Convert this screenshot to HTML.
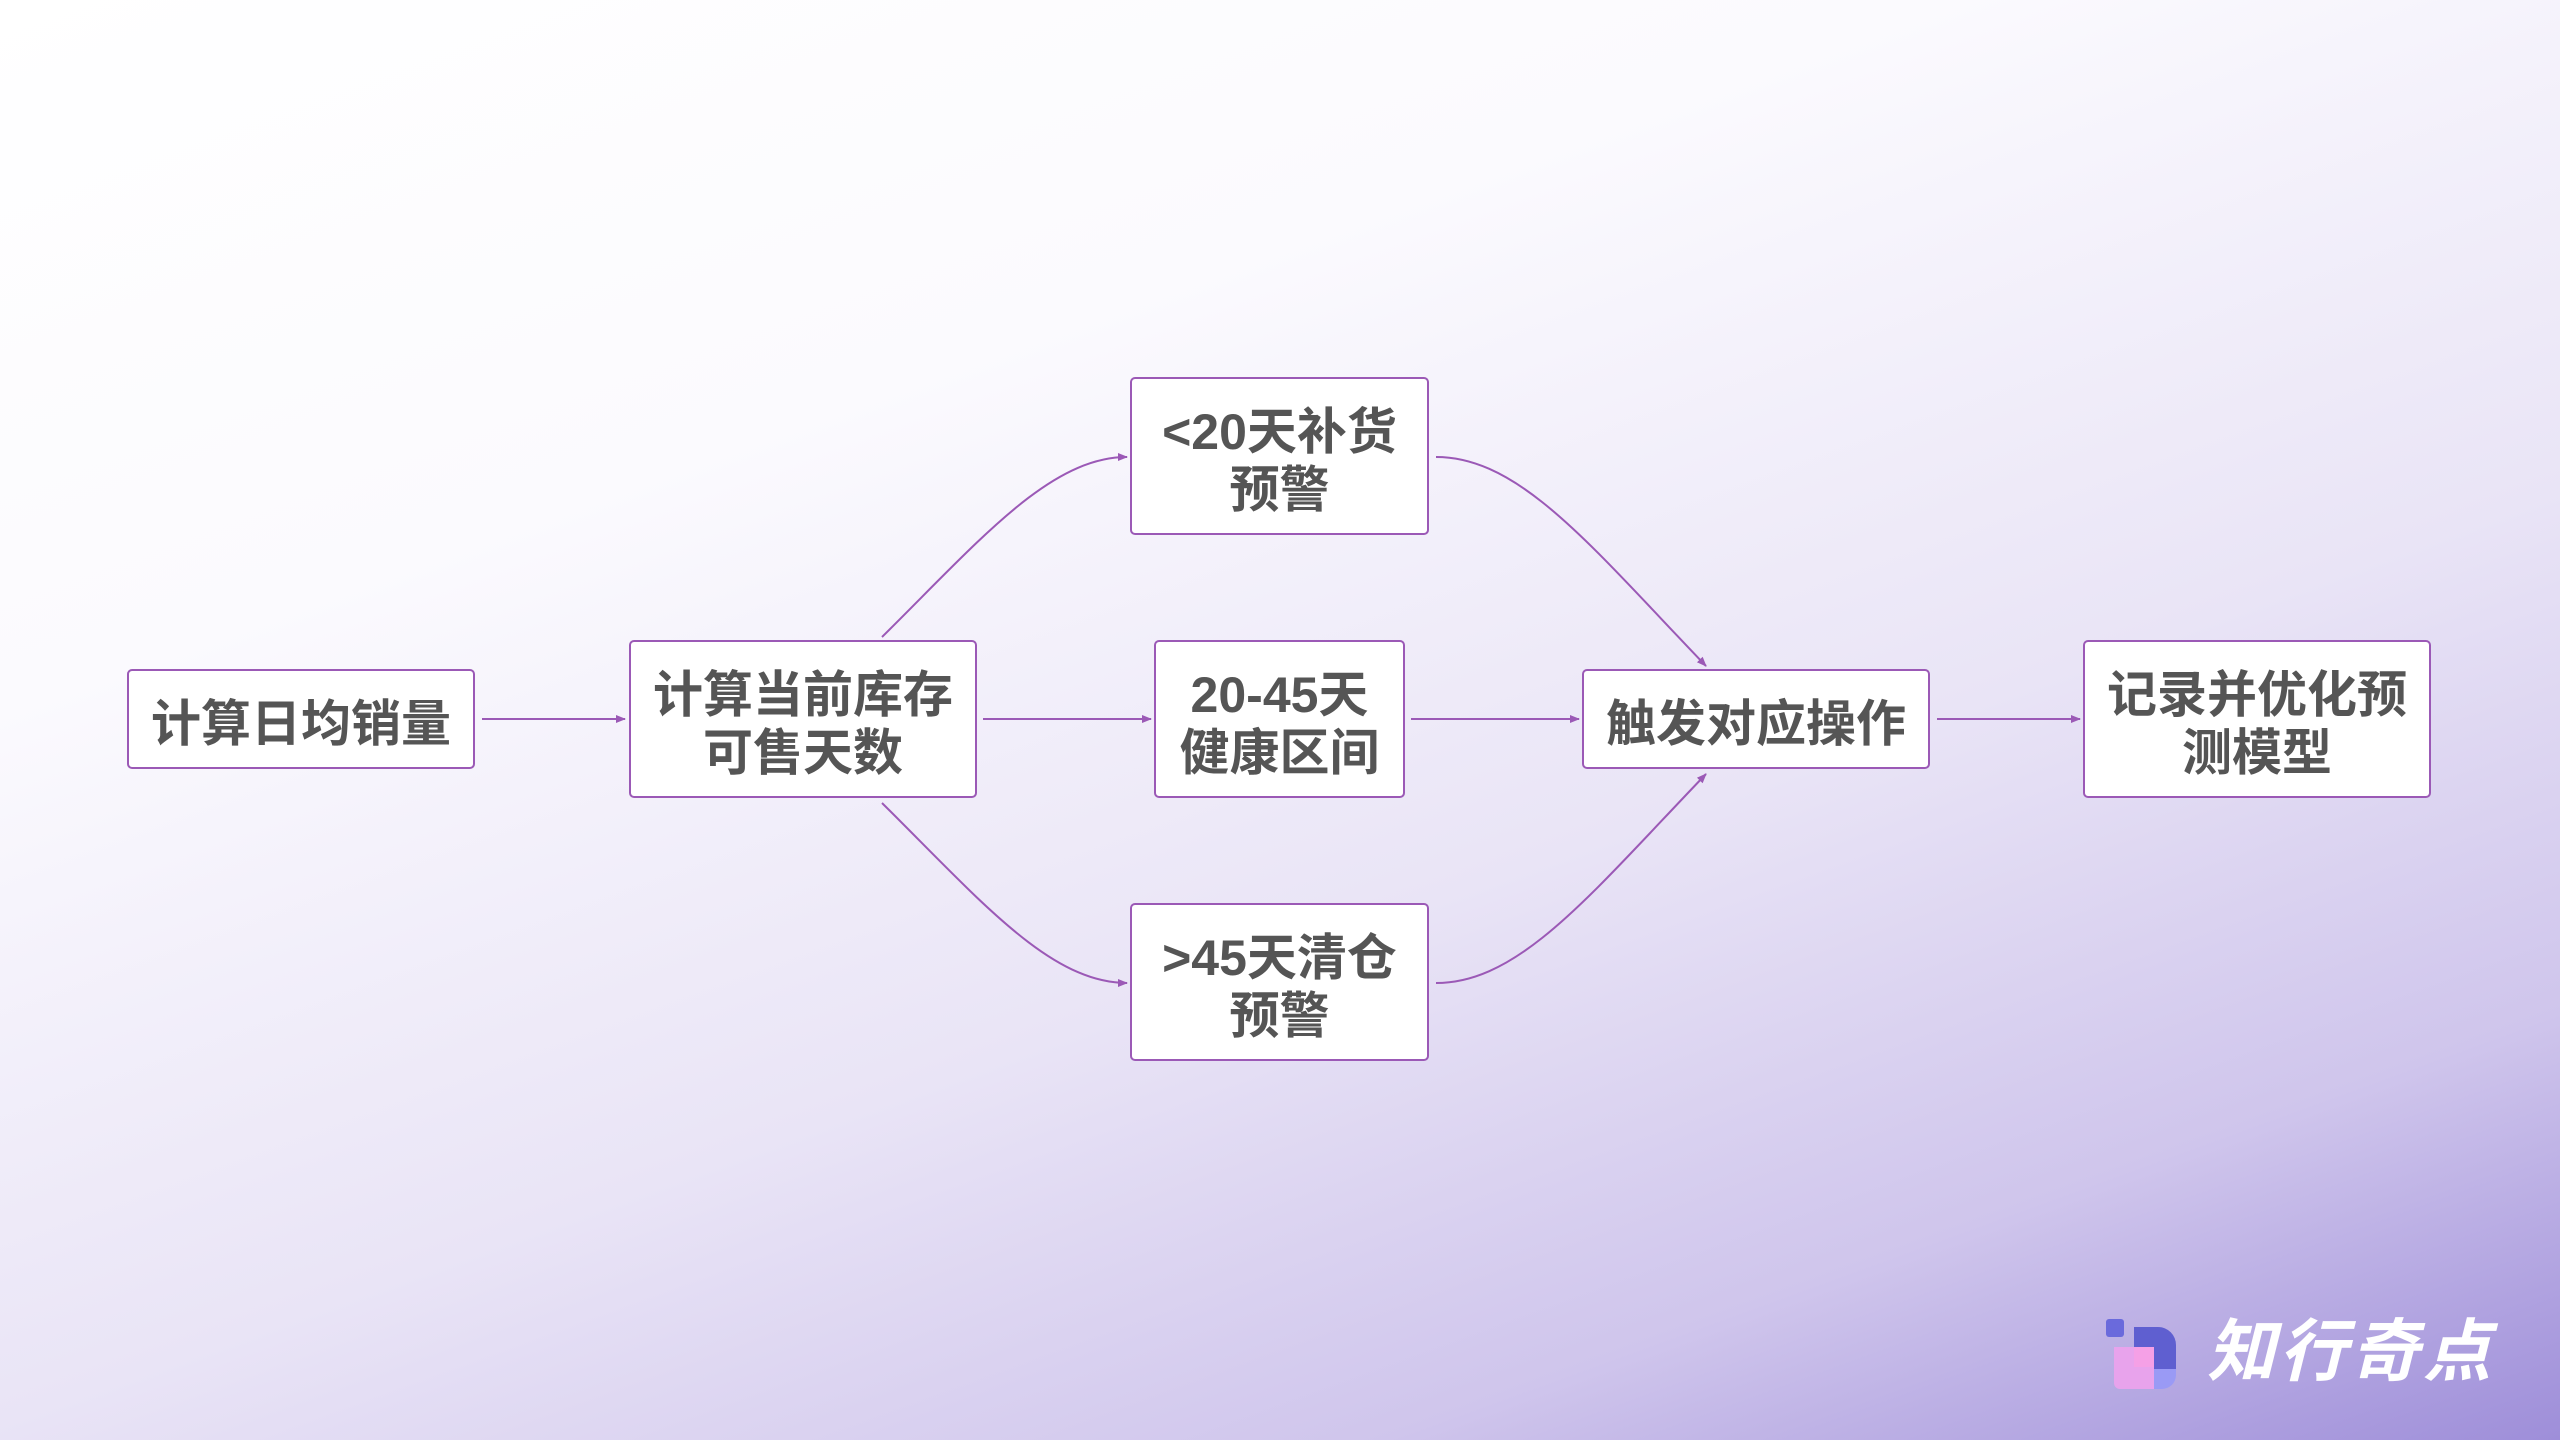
<!DOCTYPE html>
<html><head><meta charset="utf-8"><style>
body{margin:0;width:2560px;height:1440px;overflow:hidden;position:relative;
background:linear-gradient(160deg,#ffffff 0%,#fbfafe 30%,#e9e4f6 60%,#cfc5ec 82%,#9e8ed9 100%);
font-family:"Liberation Sans","Noto Sans CJK SC",sans-serif;}
.n{position:absolute;background:#fff;border:2px solid #9b59b6;border-radius:5px;box-sizing:border-box;padding-top:10px;
display:flex;align-items:center;justify-content:center;text-align:center;color:#555;font-weight:bold;font-size:50px;line-height:58px;}
svg{position:absolute;left:0;top:0}
</style></head><body>
<svg width="2560" height="1440">
<defs><marker id="a" markerWidth="10" markerHeight="10" refX="9" refY="5" orient="auto" markerUnits="userSpaceOnUse"><path d="M0,1 L10,5 L0,9z" fill="#9b59b6"/></marker></defs>
<g stroke="#9b59b6" stroke-width="2" fill="none" marker-end="url(#a)">
<path d="M482,719 L625,719"/>
<path d="M983,719 L1151,719"/>
<path d="M1411,719 L1579,719"/>
<path d="M1937,719 L2080,719"/>
<path d="M882,637 C980,540 1050,457 1127,457"/>
<path d="M882,803 C980,900 1050,983 1127,983"/>
<path d="M1436,457 C1520,457 1590,545 1706,666"/>
<path d="M1436,983 C1520,983 1590,895 1706,774"/>
</g></svg>
<div class="n" style="left:127px;top:669px;width:348px;height:100px">计算日均销量</div>
<div class="n" style="left:629px;top:640px;width:348px;height:158px">计算当前库存<br>可售天数</div>
<div class="n" style="left:1130px;top:377px;width:299px;height:158px">&lt;20天补货<br>预警</div>
<div class="n" style="left:1154px;top:640px;width:251px;height:158px">20-45天<br>健康区间</div>
<div class="n" style="left:1130px;top:903px;width:299px;height:158px">&gt;45天清仓<br>预警</div>
<div class="n" style="left:1582px;top:669px;width:348px;height:100px">触发对应操作</div>
<div class="n" style="left:2083px;top:640px;width:348px;height:158px">记录并优化预<br>测模型</div>
<div style="position:absolute;left:2106px;top:1319px;width:70px;height:70px">
<div style="position:absolute;left:0;top:0;width:18px;height:18px;background:#6a6adc;border-radius:3px"></div>
<div style="position:absolute;left:28px;top:8px;width:42px;height:62px;background:#5f5fd0;border-radius:0 18px 18px 0"></div>
<div style="position:absolute;left:8px;top:28px;width:40px;height:42px;background:#e8a3ec;border-radius:0 0 0 6px"></div>
<div style="position:absolute;left:28px;top:28px;width:20px;height:20px;background:#f5a0e6"></div>
<div style="position:absolute;left:48px;top:50px;width:22px;height:20px;background:#9a9af5;border-radius:0 0 14px 0"></div>
</div>
<div style="position:absolute;left:2207px;top:1312px;color:#fff;font-weight:bold;font-style:italic;font-size:68px;line-height:80px;letter-spacing:4px">知行奇点</div>
</body></html>
